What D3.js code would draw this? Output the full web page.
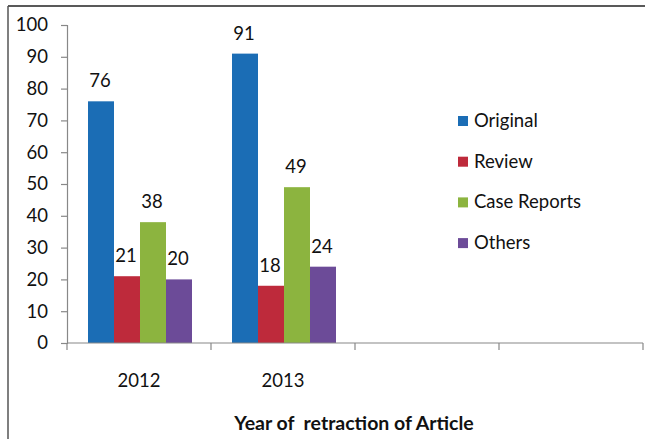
<!DOCTYPE html>
<html>
<head>
<meta charset="utf-8">
<script src="https://cdn.jsdelivr.net/npm/d3@7.9.0/dist/d3.min.js"></script>
<style>
  body { margin: 0; background: #fff; }
  svg { display: block; font-family: Lato, "Open Sans", sans-serif; }
</style>
</head>
<body>
<svg id="chart" width="645" height="439"></svg>
<script>
const years = ['2012', '2013', '', ''];
const types = ['Original', 'Review', 'Case Reports', 'Others'];
const original = [76, 91];
const review = [21, 18];
const caseReports = [38, 49];
const others = [20, 24];
const yTicks = [0, 10, 20, 30, 40, 50, 60, 70, 80, 90, 100];
const colors = ['#1b6db5', '#be2a3b', '#8cb43f', '#6c4b98'];

const seriesValues = [original, review, caseReports, others];

const svg = d3.select('#chart');

// outer frame (top + left only)
svg.append('line').attr('x1', 8).attr('x2', 645).attr('y1', 6).attr('y2', 6)
   .attr('stroke', '#222').attr('stroke-width', 1.5);
svg.append('line').attr('x1', 8).attr('x2', 8).attr('y1', 6).attr('y2', 439)
   .attr('stroke', '#555').attr('stroke-width', 1.5);

let x = d3.scaleBand().domain(d3.range(years.length)).range([67, 643]);
let y = d3.scaleLinear().domain([0, 100]).range([343, 25]);
let xInner = d3.scaleBand().domain(d3.range(types.length)).range([21, 125]);

// y axis
let yAxis = svg.append('g').attr('transform', 'translate(67,0)')
    .call(d3.axisLeft(y).tickValues(yTicks).tickSize(6).tickPadding(13));
yAxis.select('.domain').attr('stroke', '#888').attr('stroke-width', 1.2);
yAxis.selectAll('.tick line').attr('stroke', '#888').attr('stroke-width', 1.2);
yAxis.selectAll('.tick text').attr('font-size', 18.5).attr('fill', '#111')
    .attr('font-family', 'Lato, sans-serif');

// bars
years.forEach((yr, i) => {
    seriesValues.forEach((vals, j) => {
        if (vals[i] === undefined) return;
        svg.append('rect')
           .attr('x', x(i) + xInner(j))
           .attr('y', y(vals[i]))
           .attr('width', xInner.bandwidth())
           .attr('height', y(0) - y(vals[i]))
           .attr('fill', colors[j]);
        svg.append('text')
           .attr('x', x(i) + xInner(j) + xInner.bandwidth() / 2 - 1)
           .attr('y', y(vals[i]) - 14)
           .attr('text-anchor', 'middle')
           .attr('font-size', 18.5)
           .attr('fill', '#111')
           .text(vals[i]);
    });
});

// x axis with boundary ticks
svg.append('line').attr('x1', 67).attr('x2', 643).attr('y1', y(0)).attr('y2', y(0))
   .attr('stroke', '#888').attr('stroke-width', 1.2);
d3.range(years.length + 1).forEach(k => {
    let xx = k < years.length ? x(k) : x(years.length - 1) + x.bandwidth();
    svg.append('line').attr('x1', xx).attr('x2', xx).attr('y1', y(0)).attr('y2', y(0) + 7)
       .attr('stroke', '#888').attr('stroke-width', 1.2);
});
years.forEach((yr, i) => {
    svg.append('text')
       .attr('x', x(i) + x.bandwidth() / 2)
       .attr('y', 387)
       .attr('text-anchor', 'middle')
       .attr('font-size', 18.5)
       .attr('fill', '#111')
       .text(yr);
});

// axis title
svg.append('text')
   .attr('x', 354).attr('y', 430)
   .attr('text-anchor', 'middle')
   .attr('font-size', 19.5).attr('font-weight', 'bold')
   .attr('fill', '#111')
   .attr('xml:space', 'preserve')
   .text('Year of  retraction of Article');

// legend
types.forEach((t, i) => {
    let cy = 121 + i * 40.7;
    svg.append('rect').attr('x', 458).attr('y', cy - 5).attr('width', 10).attr('height', 10)
       .attr('fill', colors[i]);
    svg.append('text').attr('x', 474).attr('y', cy + 6)
       .attr('font-size', 18.5).attr('fill', '#111').text(t);
});
</script>
</body>
</html>
